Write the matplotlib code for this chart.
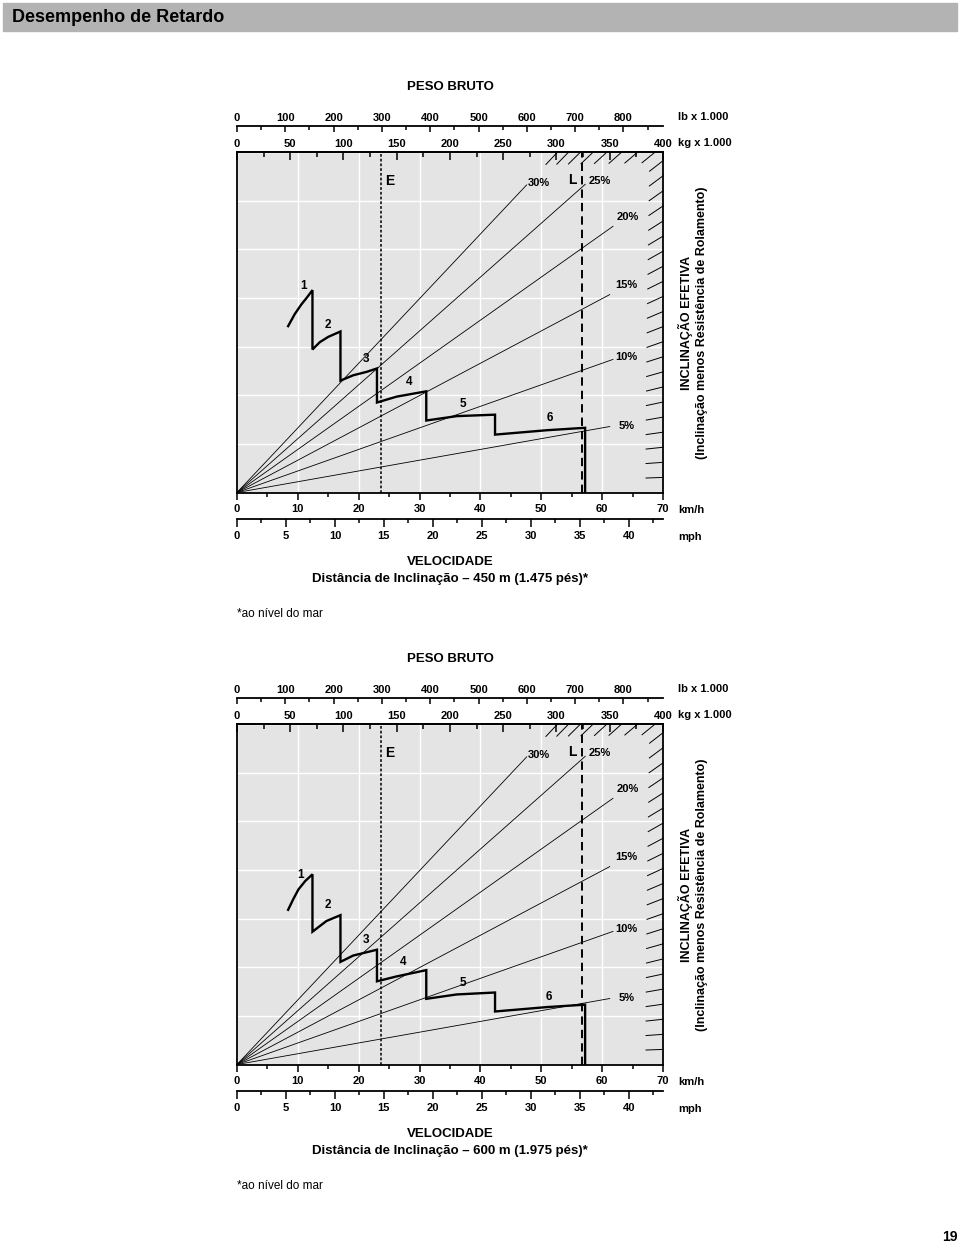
import numpy as np
import matplotlib.pyplot as plt
from matplotlib.patches import Rectangle
from matplotlib.ticker import MultipleLocator

plt.rcParams['font.family'] = ['Liberation Sans', 'DejaVu Sans']
plt.rcParams['font.weight'] = 'bold'

## scales
KMH_MAX = 70
KG_MAX = 400
LB_PER_KG = 2.20462
KMH_PER_MPH = 1.609344
Y_MAX = 7                 # force grid units (unlabelled)
FORCE_PER_GRADE = 0.31    # force units per 1 % grade at 400 t

kmh_ticks = [0, 10, 20, 30, 40, 50, 60, 70]
mph_ticks = [0, 5, 10, 15, 20, 25, 30, 35, 40]
kg_ticks = [0, 50, 100, 150, 200, 250, 300, 350, 400]
lb_ticks = [0, 100, 200, 300, 400, 500, 600, 700, 800]

## grade lines
grade_labels = [5, 10, 15, 20, 25, 30]
grade_line_end_kg = [350, 353, 350, 353, 327, 272]
grade_label_kg = [366, 366, 366, 367, 341, 283]
grade_label_y = [1.37, 2.79, 4.26, 5.66, 6.40, 6.37]
grade_marks = list(range(1, 31))

## empty / loaded weight lines
empty_kg = 135
loaded_kg = 324
weight_label_kg = [143, 314.5]
weight_label_y = [6.40, 6.42]
weight_label_txt = ['E', 'L']

## retarding curves, gears 1-6 (km/h, force units)
speed_450 = [
    [8.4, 9.5, 10.6, 11.5, 12.4],
    [12.4, 13.6, 15.0, 17.0],
    [17.0, 19.1, 21.3, 23.0],
    [23.0, 26.2, 31.1],
    [31.1, 36.1, 42.4],
    [42.4, 50.9, 57.2],
]
force_450 = [
    [3.42, 3.67, 3.87, 4.01, 4.16],
    [2.94, 3.09, 3.20, 3.31],
    [2.30, 2.41, 2.48, 2.55],
    [1.85, 1.97, 2.08],
    [1.48, 1.57, 1.60],
    [1.19, 1.28, 1.33],
]
gear_lab_v_450 = [11.0, 14.9, 21.2, 28.3, 37.2, 51.4]
gear_lab_f_450 = [4.25, 3.44, 2.75, 2.28, 1.81, 1.53]

speed_600 = [
    [8.4, 9.25, 10.1, 11.2, 12.4],
    [12.4, 14.7, 17.0],
    [17.0, 19.1, 23.0],
    [23.0, 26.2, 31.1],
    [31.1, 36.1, 42.4],
    [42.4, 50.9, 57.2],
]
force_600 = [
    [3.18, 3.40, 3.60, 3.77, 3.91],
    [2.73, 2.95, 3.07],
    [2.11, 2.24, 2.36],
    [1.71, 1.81, 1.94],
    [1.35, 1.44, 1.48],
    [1.09, 1.18, 1.23],
]
gear_lab_v_600 = [10.5, 14.9, 21.2, 27.3, 37.2, 51.3]
gear_lab_f_600 = [3.89, 3.27, 2.56, 2.10, 1.68, 1.38]

W, H = 960, 1248
fig = plt.figure(figsize=(W / 100, H / 100), dpi=100)


def w2x(kg):
    return np.asarray(kg, dtype=float) * KMH_MAX / KG_MAX


def draw_chart(top, speeds, forces, lab_v, lab_f, distance):
    ax = fig.add_axes([237 / W, 1 - (top + 340.5) / H, 426 / W, 340.5 / H])
    ax.set_xlim(0, KMH_MAX)
    ax.set_ylim(0, Y_MAX)
    ax.set_facecolor('#e4e4e4')
    ax.set_xticks(kmh_ticks)
    ax.xaxis.set_minor_locator(MultipleLocator(5))
    ax.set_yticks(range(0, Y_MAX + 1))
    ax.grid(True, color='white', lw=1.0)
    ax.set_axisbelow(True)
    ax.tick_params(axis='y', left=False, labelleft=False)
    for s in ax.spines.values():
        s.set_linewidth(1.3)

    # grade rays
    for g, end in zip(grade_labels, grade_line_end_kg):
        wk = np.array([0, end])
        ax.plot(w2x(wk), FORCE_PER_GRADE * g * wk / KG_MAX, color='black', lw=0.6)
    for g, wk, y in zip(grade_labels, grade_label_kg, grade_label_y):
        ax.text(w2x(wk), y, f'{g}%', fontsize=8, ha='center', va='center')

    # short grade marks at the border
    sx = ax.bbox.width / KMH_MAX
    sy = ax.bbox.height / Y_MAX
    for g in grade_marks:
        slope = FORCE_PER_GRADE * g / KG_MAX
        w_end = min(KG_MAX, Y_MAX / slope)
        x_end = float(w2x(w_end))
        y_end = slope * w_end
        m = y_end / x_end
        dx = 17 / np.hypot(sx, m * sy)
        ax.plot([x_end - dx, x_end], [y_end - m * dx, y_end], color='black',
                lw=0.7, clip_on=False)

    # E / L weight lines
    ax.axvline(w2x(empty_kg), color='black', lw=1.1, ls=(0, (1.8, 1.3)))
    ax.axvline(w2x(loaded_kg), color='black', lw=1.4, ls=(0, (4.3, 2.6)))
    for wk, y, t in zip(weight_label_kg, weight_label_y, weight_label_txt):
        ax.text(w2x(wk), y, t, fontsize=10, ha='center', va='center')

    # retarding curve
    v, f = [], []
    for s, fo in zip(speeds, forces):
        v += s
        f += fo
    v.append(v[-1])
    f.append(0)
    ax.plot(v, f, color='black', lw=1.7, solid_joinstyle='miter')
    for i, (x, y) in enumerate(zip(lab_v, lab_f)):
        ax.text(x, y, str(i + 1), fontsize=8.5, ha='center', va='center')

    ax.tick_params(axis='x', which='major', direction='out', length=5, width=1.1,
                   pad=3.2, labelsize=8)
    ax.tick_params(axis='x', which='minor', direction='out', length=3.2, width=1.1)

    # kg axis (top of box)
    axw = ax.twiny()
    axw.set_xlim(0, KG_MAX)
    axw.set_xticks(kg_ticks)
    axw.xaxis.set_minor_locator(MultipleLocator(25))
    axw.tick_params(axis='x', which='major', direction='in', length=5.8, width=1.1,
                    pad=2, labelsize=8)
    axw.tick_params(axis='x', which='minor', direction='in', length=3.6, width=1.1)
    for s in ['left', 'right', 'bottom']:
        axw.spines[s].set_visible(False)
    axw.spines['top'].set_linewidth(1.3)

    # lb axis
    axlb = ax.twiny()
    axlb.set_xlim(0, KG_MAX * LB_PER_KG)
    axlb.set_xticks(lb_ticks)
    axlb.xaxis.set_minor_locator(MultipleLocator(50))
    axlb.tick_params(axis='x', which='major', direction='in', length=4.6, width=1.1,
                     pad=2, labelsize=8)
    axlb.tick_params(axis='x', which='minor', direction='in', length=3, width=1.1)
    for s in ['left', 'right', 'bottom']:
        axlb.spines[s].set_visible(False)
    axlb.spines['top'].set_position(('outward', 18.7))
    axlb.spines['top'].set_linewidth(1.3)

    # mph axis
    axm = ax.twiny()
    axm.set_xlim(0, KMH_MAX / KMH_PER_MPH)
    axm.xaxis.tick_bottom()
    axm.set_xticks(mph_ticks)
    axm.xaxis.set_minor_locator(MultipleLocator(2.5))
    axm.tick_params(axis='x', which='major', direction='out', length=5.4, width=1.1,
                    pad=3.2, labelsize=8)
    axm.tick_params(axis='x', which='minor', direction='out', length=3.2, width=1.1)
    for s in ['left', 'right', 'top']:
        axm.spines[s].set_visible(False)
    axm.spines['bottom'].set_position(('outward', 19.4))
    axm.spines['bottom'].set_linewidth(1.3)

    # texts
    def ft(x, y, s, **kw):
        fig.text(x / W, 1 - y / H, s, **kw)

    ft(450, top - 65, 'PESO BRUTO', fontsize=9.5, ha='center', va='center')
    ft(678, top - 35, 'lb x 1.000', fontsize=8, ha='left', va='center')
    ft(678, top - 9, 'kg x 1.000', fontsize=8, ha='left', va='center')
    ft(678, top + 358, 'km/h', fontsize=8, ha='left', va='center')
    ft(678, top + 385, 'mph', fontsize=8, ha='left', va='center')
    ft(450, top + 410, 'VELOCIDADE', fontsize=9.5, ha='center', va='center')
    ft(450, top + 427, distance, fontsize=9.5, ha='center', va='center')
    ft(237, top + 462, '*ao nível do mar', fontsize=8.5, ha='left', va='center',
       weight='normal')
    ft(685, top + 171, 'INCLINAÇÃO EFETIVA', fontsize=9, rotation=90,
       ha='center', va='center')
    ft(702, top + 171, '(Inclinação menos Resistência de Rolamento)', fontsize=9,
       rotation=90, ha='center', va='center')


fig.patches.append(Rectangle((3 / W, 1 - 31 / H), 954 / W, 28 / H,
                             transform=fig.transFigure, color='#b3b3b3', zorder=0))
fig.text(12 / W, 1 - 17 / H, 'Desempenho de Retardo', fontsize=13,
         ha='left', va='center')
fig.text(950 / W, 1 - 1237 / H, '19', fontsize=10, ha='center', va='center')

draw_chart(152, speed_450, force_450, gear_lab_v_450, gear_lab_f_450,
           'Distância de Inclinação – 450 m (1.475 pés)*')
draw_chart(724, speed_600, force_600, gear_lab_v_600, gear_lab_f_600,
           'Distância de Inclinação – 600 m (1.975 pés)*')

fig.savefig('out.png', dpi=100)
